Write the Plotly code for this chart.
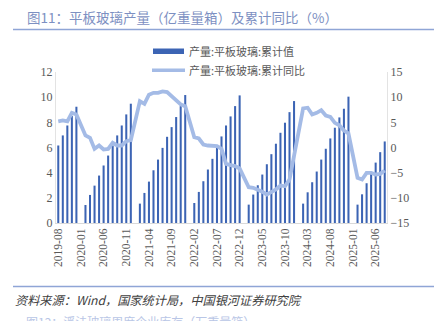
import plotly.graph_objects as go
import pandas as pd

# ---- data ----
months = [d.strftime("%Y-%m") for d in pd.date_range("2019-08-01", "2025-08-01", freq="MS")]
bar_name = "产量:平板玻璃:累计值"
line_name = "产量:平板玻璃:累计同比"
output_cum = [
    6.16, 6.96, 7.75, 8.5, 9.24,
    None, 1.43, 2.23, 2.97, 3.77, 4.57, 5.36, 6.16, 6.96, 7.75, 8.63, 9.48,
    None, 1.54, 2.39, 3.29, 4.19, 5.04, 5.97, 6.85, 7.62, 8.42, 9.29, 10.17,
    None, 1.59, 2.47, 3.32, 4.25, 5.1, 6.0, 6.88, 7.75, 8.47, 9.29, 10.14,
    None, 1.46, 2.26, 3.0, 3.85, 4.67, 5.47, 6.3, 7.17, 7.97, 8.81, 9.69,
    None, 1.54, 2.44, 3.24, 4.09, 5.04, 5.9, 6.72, 7.57, 8.39, 9.08, 10.04,
    None, 1.46, 2.28, 3.16, 3.98, 4.8, 5.63, 6.48,
]
yoy_cum = [
    5.2, 5.37, 5.2, 6.9, 6.56,
    None, 2.39, 1.92, -0.27, 0.4, -0.4, -0.27, 0.93, 0.4, 0.4, 1.26, 1.46,
    None, 9.2, 8.68, 10.5, 10.87, 10.87, 11.15, 11.0, 10.2, 9.2, 8.55, 8.2,
    None, 2.05, 1.79, 0.6, 0.4, 0.27, 0.27, -0.27, -3.25, -3.5, -3.7, -4.17,
    None, -7.9, -8.0, -8.35, -8.8, -9.35, -8.9, -8.35, -7.55, -7.7, -6.36, -1.73,
    None, 7.75, 7.9, 6.56, 6.9, 7.42, 6.36, 6.1, 4.9, 4.43, 3.38, 2.78,
    None, -6.03, -6.36, -5.03, -5.03, -5.37, -5.23, -4.57,
]
x_ticks = months[::5]
left_ticks = [0, 2, 4, 6, 8, 10, 12]
right_ticks = [-15, -10, -5, 0, 5, 10, 15]
title_text = "图11：平板玻璃产量（亿重量箱）及累计同比（%）"
source_text = "资料来源：Wind，国家统计局，中国银河证券研究院"
next_title = "图12：浮法玻璃周度企业库存（万重量箱）"

BAR_C = "#3c64b4"
LINE_C = "#a4bbe6"
TXT_C = "#595959"
TITLE_C = "#7d90c2"
RULE_C = "#8fa5d6"

W, H = 434, 321
L, R, T, B = 56, 47, 72, 98
pw, ph = W - L - R, H - T - B

def px(x):
    return (x - L) / pw

def py(y):
    return (H - B - y) / ph

fig = go.Figure()
fig.add_trace(go.Bar(x=months, y=output_cum, name=bar_name, marker_color=BAR_C,
                     marker_line_width=0, yaxis="y"))
fig.add_trace(go.Scatter(x=months, y=yoy_cum, name=line_name, mode="lines",
                         line=dict(color=LINE_C, width=3.8), connectgaps=True, yaxis="y2"))

tickfont = dict(family="Liberation Serif, Times New Roman, serif", size=12, color=TXT_C)
fig.update_layout(
    width=W, height=H, margin=dict(l=L, r=R, t=T, b=B),
    paper_bgcolor="white", plot_bgcolor="white",
    showlegend=False, bargap=0.55,
    xaxis=dict(type="category", tickmode="array", tickvals=x_ticks, ticktext=x_ticks,
               tickangle=-90, tickfont=dict(family="Liberation Serif, serif", size=11.5, color=TXT_C),
               showgrid=False, showline=True, linecolor="#d9d9d9", linewidth=1,
               ticks="", range=[-0.5, len(months) - 0.5]),
    yaxis=dict(range=[0, 12], tickvals=left_ticks, tickfont=tickfont, showgrid=False,
               zeroline=False, showline=True, linecolor="#e3e3e3", ticks="", ticklen=0),
    yaxis2=dict(range=[-15, 15], tickvals=right_ticks, tickfont=tickfont, overlaying="y",
                side="right", showgrid=False, zeroline=False, showline=True,
                linecolor="#e3e3e3", ticks=""),
    font=dict(family="Noto Sans CJK SC"),
)

shapes = [
    # title underline
    dict(type="line", xref="paper", yref="paper", x0=px(13), x1=px(434), y0=py(29.5), y1=py(29.5),
         line=dict(color=RULE_C, width=1.5)),
    # source rule
    dict(type="line", xref="paper", yref="paper", x0=px(13), x1=px(434), y0=py(286.5), y1=py(286.5),
         line=dict(color=RULE_C, width=1.5)),
    # legend icons
    dict(type="rect", xref="paper", yref="paper", x0=px(153), x1=px(184), y0=py(54), y1=py(48.5),
         fillcolor=BAR_C, line=dict(width=0)),
    dict(type="line", xref="paper", yref="paper", x0=px(152), x1=px(185), y0=py(70.3), y1=py(70.3),
         line=dict(color=LINE_C, width=3.5)),
]
ann = [
    dict(text=title_text, x=px(25), y=py(16.5), xanchor="left", yanchor="middle",
         font=dict(size=13.5, color=TITLE_C, family="Noto Sans CJK SC")),
    dict(text=bar_name, x=px(187), y=py(51.3), xanchor="left", yanchor="middle",
         font=dict(size=11, color=TXT_C, family="Noto Sans CJK SC")),
    dict(text=line_name, x=px(187), y=py(70.3), xanchor="left", yanchor="middle",
         font=dict(size=11, color=TXT_C, family="Noto Sans CJK SC")),
    dict(text="<i>" + source_text + "</i>", x=px(13), y=py(299.5), xanchor="left", yanchor="middle",
         font=dict(size=12.2, color="#404040", family="Noto Sans CJK SC")),
    dict(text=next_title, x=px(24), y=py(321), xanchor="left", yanchor="middle",
         font=dict(size=12, color="#b9c6e6", family="Noto Sans CJK SC")),
]
for a in ann:
    a.update(xref="paper", yref="paper", showarrow=False)
fig.update_layout(shapes=shapes, annotations=ann)

fig.write_html("out.html")
